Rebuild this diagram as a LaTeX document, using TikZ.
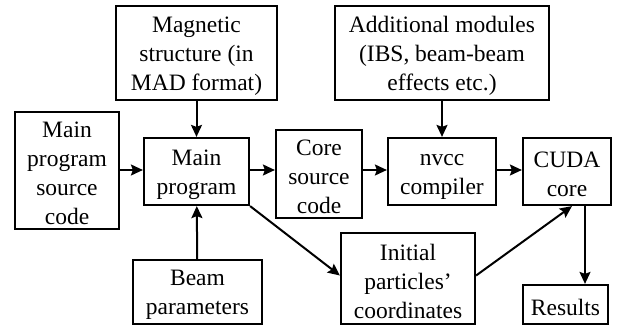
\documentclass[tikz,border=0pt]{standalone}
\usepackage{fontspec}
\setmainfont{Liberation Serif}
\usetikzlibrary{arrows.meta}
\begin{document}
\begin{tikzpicture}[x=1pt,y=-1pt,
  box/.style={draw,line width=2.2pt,align=center,inner sep=0pt,font=\fontsize{23.5}{29}\selectfont},
  arr/.style={line width=2pt,-{Stealth[length=12pt,width=11pt,inset=2pt]}}]
\useasboundingbox (0,0) rectangle (627,326);
\newcommand\dn{\rule{0pt}{22pt}}
\node[box,minimum width=161pt,minimum height=94pt] (mag) at (196.5,53) {\dn Magnetic\\structure (in\\MAD format)};
\node[box,minimum width=104pt,minimum height=117pt] (mpsc) at (67,170.5) {\dn Main\\program\\source\\code};
\node[box,minimum width=105pt,minimum height=67pt] (main) at (196.5,171.5) {\dn Main\\program};
\node[box,minimum width=86pt,minimum height=88pt] (core) at (319,174) {\dn Core\\source\\code};
\node[box,minimum width=214pt,minimum height=94pt] (add) at (442,53) {\dn Additional modules\\(IBS, beam-beam\\effects etc.)};
\node[box,minimum width=108pt,minimum height=67pt] (nvcc) at (442,171.5) {\dn nvcc\\compiler};
\node[box,minimum width=88pt,minimum height=67pt] (cuda) at (567,171.5) {\dn CUDA\\core};
\node[box,minimum width=134pt,minimum height=91pt] (init) at (408,278.5) {\dn Initial\\particles’\\coordinates};
\node[box,minimum width=85pt,minimum height=39pt] (res) at (565.5,304.5) {\dn Results};
\node[box,minimum width=129pt,minimum height=64pt] (beam) at (197.5,292) {\dn Beam\\parameters};
\draw[arr] (mag) -- (main);
\draw[arr] (beam) -- (main);
\draw[arr] (add) -- (nvcc);
\draw[arr] ([yshift=1.5pt]mpsc.east |- main.west) -- ([yshift=1.5pt]main.west);
\draw[arr] ([yshift=1.5pt]main.east) -- ([yshift=1.5pt]core.west |- main.east);
\draw[arr] ([yshift=1.5pt]core.east |- nvcc.west) -- ([yshift=1.5pt]nvcc.west);
\draw[arr] ([yshift=1.5pt]nvcc.east) -- ([yshift=1.5pt]cuda.west);
\draw[arr] (main.south east) -- ([yshift=3pt]init.west);
\draw[arr] ([yshift=3pt]init.east) -- ([xshift=5pt]cuda.south);
\draw[arr] ([xshift=18pt]cuda.south) -- ([xshift=18pt]cuda.south |- res.north);
\end{tikzpicture}
\end{document}
